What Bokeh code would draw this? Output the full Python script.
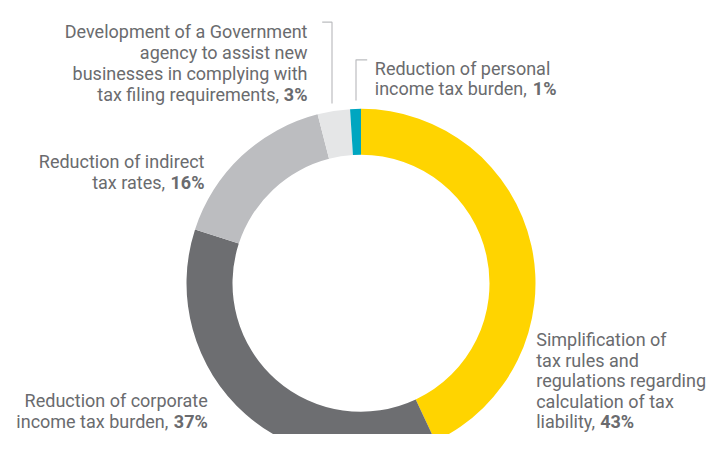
import numpy as np
from bokeh.plotting import figure
from bokeh.models import Range1d, ColumnDataSource
from bokeh.embed import file_html
from bokeh.resources import INLINE
from bokeh.core.properties import value

# ---------------- data ----------------
categories = [
    "Simplification of tax rules and regulations regarding calculation of tax liability",
    "Reduction of corporate income tax burden",
    "Reduction of indirect tax rates",
    "Development of a Government agency to assist new businesses in complying with tax filing requirements",
    "Reduction of personal income tax burden",
]
values = [43, 37, 16, 3, 1]
colors = ["#FFD400", "#6D6E71", "#BCBDC0", "#E5E6E7", "#00A6C0"]
label_lines = [
    ["Simplification of", "tax rules and", "regulations regarding", "calculation of tax", "liability, "],
    ["Reduction of corporate", "income tax burden, "],
    ["Reduction of indirect", "tax rates, "],
    ["Development of a Government", "agency to assist new", "businesses in complying with", "tax filing requirements, "],
    ["Reduction of personal", "income tax burden, "],
]

# ---------------- layout (picture pixel coordinates) ----------------
PAGE_H = 450
def Y(py):
    return PAGE_H - py

cx, cy = 360.5, 282.8
r_in, r_out = 128.5, 174.5

# x anchor, first baseline, line step, align, width used for bold offset
label_layout = [
    (535.7, 339.0, 20.5, "left", 64),
    (207.3, 400.0, 20.7, "right", 35),
    (204.0, 161.0, 20.7, "right", 35),
    (307.0, 30.7, 21.2, "right", 24),
    (374.3, 68.3, 20.0, "left", 158),
]
leaders = [
    None, None, None,
    ([321.7, 331.5, 331.5], [21.7, 21.7, 103.0]),
    ([366.7, 355.5, 355.5], [59.3, 59.3, 100.0]),
]

FONT = "Roboto"
FSIZE = "18px"
TCOLOR = "#6A6B6E"

W, H = 708, 434
p = figure(width=W, height=H, output_backend="svg", toolbar_location=None,
           x_range=Range1d(0, W), y_range=Range1d(PAGE_H - H, PAGE_H), min_border=0)
p.axis.visible = False
p.grid.visible = False
p.outline_line_color = None
p.background_fill_color = "white"

total = float(sum(values))
cum = np.cumsum([0] + values) / total
start = np.pi / 2 - 2 * np.pi * cum[:-1]
end = np.pi / 2 - 2 * np.pi * cum[1:]
src = ColumnDataSource(dict(start=start, end=end, color=colors, cat=categories, val=values))
p.annular_wedge(x=cx, y=Y(cy), inner_radius=r_in, outer_radius=r_out,
                start_angle="start", end_angle="end", direction="clock",
                color="color", line_color=None, source=src)

# leader lines
for ld in leaders:
    if ld is None:
        continue
    xs, ys = ld
    p.line(xs, [Y(v) for v in ys], line_color="#BCBDC0", line_width=1.2)

# labels
reg = dict(x=[], y=[], text=[], align=[], xo=[])
bold = dict(x=[], y=[], text=[], align=[], xo=[])
for lines, v, (lx, ly, step, al, w) in zip(label_lines, values, label_layout):
    for i, ln in enumerate(lines):
        yy = Y(ly + i * step)
        last = i == len(lines) - 1
        reg["x"].append(lx); reg["y"].append(yy); reg["text"].append(ln if last else ln.rstrip())
        reg["align"].append(al)
        reg["xo"].append(-w if (last and al == "right") else 0)
        if last:
            bold["x"].append(lx); bold["y"].append(yy); bold["text"].append(f"{v}%")
            bold["align"].append(al)
            bold["xo"].append(w if al == "left" else 0)

p.text(x="x", y="y", text="text", text_align="align", x_offset="xo",
       source=ColumnDataSource(reg), text_font=value(FONT), text_font_size=FSIZE,
       text_color=TCOLOR, text_baseline="alphabetic")
p.text(x="x", y="y", text="text", text_align="align", x_offset="xo",
       source=ColumnDataSource(bold), text_font=value(FONT), text_font_size=FSIZE,
       text_font_style="bold", text_color=TCOLOR, text_baseline="alphabetic")

open("out.html", "w").write(file_html(p, INLINE))
